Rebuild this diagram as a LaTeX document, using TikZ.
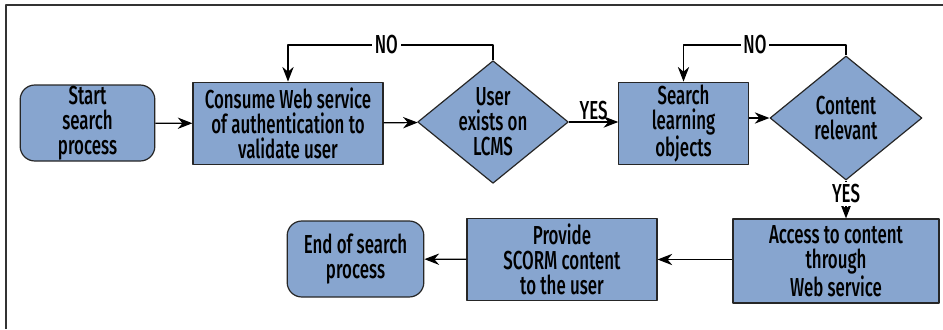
\documentclass[tikz,border=0pt]{standalone}
\usepackage{fontspec}
\setmainfont{Fira Sans Medium}[FakeStretch=0.65]
\usetikzlibrary{shapes.geometric,arrows.meta}
\definecolor{boxblue}{RGB}{135,165,207}
\begin{document}
\begin{tikzpicture}[x=0.75pt,y=-0.75pt,line join=round,font=\fontsize{19.5}{18.6}\selectfont,
    >={Stealth[length=11pt,width=8.5pt]},
    box/.style={draw=black!85,line width=0.9pt,fill=boxblue,align=center,inner sep=0pt},
    startend/.style={box,rounded corners=11pt},
    decision/.style={box,diamond},
    txt/.style={align=center,inner sep=0pt},
    lbl/.style={fill=white,inner sep=2pt}]
    \useasboundingbox (0,0) rectangle (943,329);
    \draw[black!80,line width=1pt] (6,329)--(6,5)--(943,5);
    % upper row
    \node[startend,minimum width=101pt,minimum height=57pt] (start) at (87.5,123) {Start\\search\\process};
    \node[box,minimum width=142.5pt,minimum height=62pt] (consume) at (288,123.5) {Consume Web service\\of authentication to\\validate user};
    \node[decision,minimum width=113pt,minimum height=92pt] (user) at (493,122) {};
    \node[txt] (usertxt) at (user) {User\\exists on\\LCMS};
    \node[box,minimum width=97pt,minimum height=62pt] (search) at (683.5,123.5) {Search\\learning\\objects};
    \node[decision,minimum width=114pt,minimum height=93pt] (content) at (846,118) {};
    \node[txt] (contenttxt) at (content) {Content\\relevant};
    % lower row
    \node[box,minimum width=154.5pt,minimum height=63pt] (access) at (836,261) {Access to content\\through\\Web service};
    \node[box,minimum width=142.5pt,minimum height=62pt] (provide) at (562,259.5) {Provide\\SCORM content\\to the user};
    \node[startend,minimum width=102.5pt,minimum height=57pt] (finish) at (355.5,259) {End of search\\process};
    \coordinate (top) at (0,45);
    % connectors
    \foreach \a/\b in {start/consume,consume/user,provide/finish}
    \draw[->,line width=0.9pt] (\a) -- (\b);
    \draw[->,line width=0.9pt] (access.west |- provide) -- (provide.east);
    \draw[->,line width=0.9pt] (user.east) -- node[above,inner sep=1pt]{YES} (user.east -| search.west);
    \draw[->,line width=0.9pt] (search.east |- content) -- (content.west);
    \draw[->,line width=0.9pt] (content.south) -- node[lbl,pos=0.35]{YES} (content.south |- access.north);
    \draw[->,line width=0.9pt] (user.north) -- (user.north |- top) -- node[lbl,pos=0.52]{NO} (consume.north |- top) -- (consume.north);
    \draw[->,line width=0.9pt] (content.north) -- (content.north |- top) -- node[lbl,pos=0.56]{NO} (search.north |- top) -- (search.north);
\end{tikzpicture}
\end{document}
